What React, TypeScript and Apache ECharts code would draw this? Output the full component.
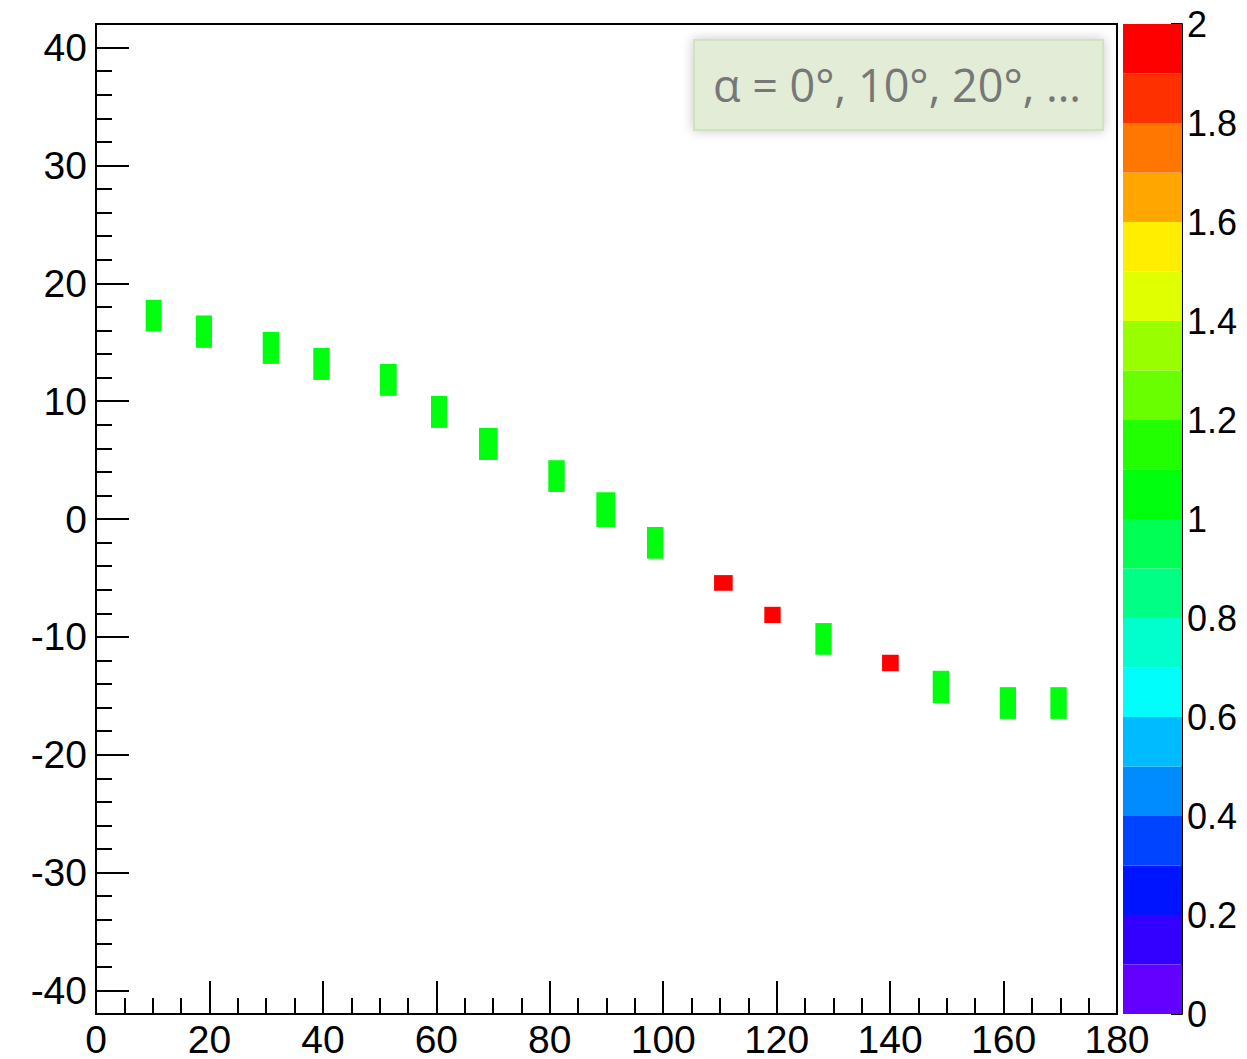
import React, { useEffect, useRef } from "react";
import * as echarts from "echarts";

// ---- axis ticks ----
const xTickValues = [0, 20, 40, 60, 80, 100, 120, 140, 160, 180];
const yMajorTicks = [-40, -30, -20, -10, 0, 10, 20, 30, 40];
const yMinorTicks = [
  -38, -36, -34, -32, -28, -26, -24, -22, -18, -16, -14, -12, -8, -6, -4, -2,
  2, 4, 6, 8, 12, 14, 16, 18, 22, 24, 26, 28, 32, 34, 36, 38,
];
const colorbarTicks = [0, 0.2, 0.4, 0.6, 0.8, 1, 1.2, 1.4, 1.6, 1.8, 2];

// ---- histogram cells (bin edges in data units, content) ----
const cellXLow = [8.76, 17.63, 29.39, 38.31, 50.07, 59.06, 67.52, 79.74, 88.21, 97.14, 108.96, 117.82, 126.82, 138.58, 147.51, 159.33, 168.25];
const cellXHigh = [11.58, 20.45, 32.26, 41.2, 53.01, 61.88, 70.82, 82.63, 91.56, 100.02, 112.25, 120.71, 129.71, 141.52, 150.39, 162.2, 171.14];
const cellYLow = [15.91, 14.52, 13.16, 11.8, 10.45, 7.73, 5.01, 2.29, -0.68, -3.37, -6.09, -8.83, -11.52, -12.91, -15.63, -16.96, -16.96];
const cellYHigh = [18.6, 17.27, 15.88, 14.52, 13.16, 10.45, 7.73, 4.99, 2.27, -0.68, -4.76, -7.45, -8.83, -11.52, -12.88, -14.27, -14.27];
const cellValue = [1, 1, 1, 1, 1, 1, 1, 1, 1, 1, 2, 2, 1, 2, 1, 1, 1];

// ---- palette (20 contour levels 0..2) ----
const levelEdges = [0, 0.1, 0.2, 0.3, 0.4, 0.5, 0.6, 0.7, 0.8, 0.9, 1.0, 1.1, 1.2, 1.3, 1.4, 1.5, 1.6, 1.7, 1.8, 1.9, 2.0];
const levelColors = [
  "#6300ff", "#3300ff", "#0014ff", "#0044ff", "#008bff", "#00bbff", "#00fffc", "#00ffcc", "#00ff85", "#00ff55",
  "#00ff0e", "#22ff00", "#69ff00", "#99ff00", "#e0ff00", "#ffee00", "#ffa700", "#ff7700", "#ff3000", "#ff0000",
];

const legendText = "α = 0°, 10°, 20°, …";

export default function App() {
  const ref = useRef<HTMLDivElement>(null);

  useEffect(() => {
    if (!ref.current) return;
    const chart = echarts.init(ref.current, null, { renderer: "svg" });

    const cells = cellXLow.map((xl, i) => [xl, cellXHigh[i], cellYLow[i], cellYHigh[i], cellValue[i]]);
    const bands = levelColors.map((_, i) => [0, 1, levelEdges[i], levelEdges[i + 1], (levelEdges[i] + levelEdges[i + 1]) / 2]);

    const pieces = levelColors.map((c, i) =>
      i === levelColors.length - 1
        ? { gte: levelEdges[i], lte: levelEdges[i + 1], color: c }
        : { gte: levelEdges[i], lt: levelEdges[i + 1], color: c }
    );

    const font = "'Liberation Sans', Arial, Helvetica, sans-serif";
    const black = { color: "#000", width: 2 };

    const rectItem = (params: any, api: any) => {
      const p1 = api.coord([api.value(0), api.value(3)]);
      const p2 = api.coord([api.value(1), api.value(2)]);
      return {
        type: "rect",
        shape: { x: p1[0], y: p1[1], width: p2[0] - p1[0], height: p2[1] - p1[1] },
        style: { fill: api.visual("color"), stroke: null },
      };
    };

    chart.setOption({
      animation: false,
      backgroundColor: "#fff",
      grid: [
        { left: 96, top: 24, width: 1021, height: 990, show: true, borderColor: "#000", borderWidth: 2, backgroundColor: "transparent" },
        { left: 1123, top: 24, width: 59, height: 990, show: false },
      ],
      visualMap: {
        type: "piecewise",
        show: false,
        dimension: 4,
        seriesIndex: [0, 1],
        pieces,
      },
      xAxis: [
        {
          gridIndex: 0,
          type: "value",
          min: 0,
          max: 180,
          interval: 20,
          axisLine: { show: true, onZero: false, lineStyle: black },
          axisTick: { show: true, inside: true, length: 33, lineStyle: black },
          minorTick: { show: true, splitNumber: 4, length: 16, lineStyle: black },
          axisLabel: {
            show: true,
            fontSize: 39,
            lineHeight: 34,
            color: "#000",
            fontFamily: font,
            margin: 8,
            customValues: xTickValues,
          },
          splitLine: { show: false },
          minorSplitLine: { show: false },
        },
        { gridIndex: 1, type: "value", min: 0, max: 1, show: false },
      ],
      yAxis: [
        {
          gridIndex: 0,
          type: "value",
          position: "left",
          min: -42,
          max: 42,
          axisLine: { show: true, onZero: false, lineStyle: black },
          axisTick: { show: true, inside: true, length: 33, lineStyle: black, customValues: yMajorTicks },
          axisLabel: { show: true, fontSize: 39, color: "#000", fontFamily: font, margin: 9, customValues: yMajorTicks },
          splitLine: { show: false },
        },
        {
          gridIndex: 0,
          type: "value",
          position: "left",
          min: -42,
          max: 42,
          axisLine: { show: false },
          axisTick: { show: true, inside: true, length: 16, lineStyle: black, customValues: yMinorTicks },
          axisLabel: { show: false },
          splitLine: { show: false },
        },
        {
          gridIndex: 1,
          type: "value",
          position: "right",
          min: 0,
          max: 2,
          interval: 0.2,
          axisLine: { show: true, onZero: false, lineStyle: black },
          axisTick: { show: true, inside: true, length: 11, lineStyle: black, customValues: colorbarTicks },
          axisLabel: {
            show: true,
            fontSize: 36,
            color: "#000",
            fontFamily: font,
            margin: 5,
            customValues: colorbarTicks,
            formatter: (v: number) => String(Math.round(v * 10) / 10),
          },
          splitLine: { show: false },
        },
      ],
      series: [
        {
          type: "custom",
          xAxisIndex: 0,
          yAxisIndex: 0,
          renderItem: rectItem,
          encode: { x: [0, 1], y: [2, 3] },
          data: cells,
          clip: true,
          z: 2,
        },
        {
          type: "custom",
          xAxisIndex: 1,
          yAxisIndex: 2,
          renderItem: rectItem,
          encode: { x: [0, 1], y: [2, 3] },
          data: bands,
          z: 1,
        },
      ],
      graphic: [
        {
          type: "rect",
          shape: { x: 694, y: 40, width: 409, height: 90 },
          style: {
            fill: "#e2ecd6",
            stroke: "#cfe4bd",
            lineWidth: 2,
            shadowBlur: 12,
            shadowColor: "rgba(0,0,0,0.22)",
          },
          z: 10,
        },
        {
          type: "text",
          x: 897,
          y: 84,
          style: {
            text: legendText,
            font: "45px 'Open Sans', sans-serif",
            fill: "#777777",
            textAlign: "center",
            textVerticalAlign: "middle",
          },
          z: 11,
        },
      ],
    });

    return () => chart.dispose();
  }, []);

  return (
    <div
      ref={ref}
      style={{ position: "fixed", left: 0, top: 0, width: 1247, height: 1059, background: "#fff" }}
    />
  );
}
